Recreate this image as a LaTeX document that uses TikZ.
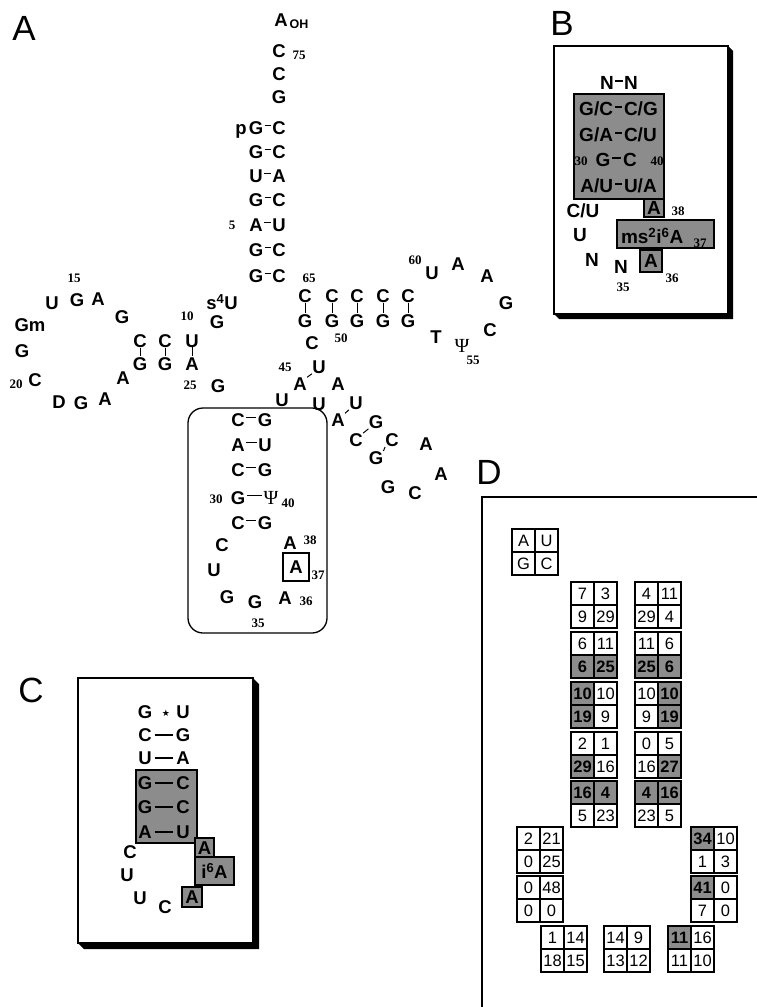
\documentclass[tikz,border=0pt]{standalone}
\usepackage{fontspec}
\newfontfamily\sansF{Liberation Sans}
\newfontfamily\serifF{Liberation Serif}
\newfontfamily\symF{DejaVu Sans}
\definecolor{shd}{gray}{0.55}

\tikzset{
  txt/.style={inner sep=0pt, outer sep=0pt},
  nt/.style={txt, font=\sansF\bfseries\fontsize{18.5}{18.5}\selectfont},
  ntb/.style={txt, font=\sansF\bfseries\fontsize{19}{19}\selectfont},
  subtxt/.style={txt, font=\sansF\bfseries\fontsize{12.5}{12.5}\selectfont},
  posnum/.style={txt, font=\serifF\bfseries\fontsize{13}{13}\selectfont},
  psi/.style={txt, font=\serifF\fontsize{20}{20}\selectfont},
  panel/.style={txt, font=\sansF\fontsize{35}{35}\selectfont},
  bond/.style={line width=1pt},
  frameline/.style={line width=1.3pt},
  tile/.style={draw, line width=1.2pt, fill=shd},
  cellbox/.style={draw, line width=1.1pt, minimum width=23pt, minimum height=23pt,
               inner sep=0pt, font=\sansF\fontsize{16.5}{16.5}\selectfont},
}

% base pair in the cloverleaf: two letters and a short raised dash
\newcommand\bpA[7]{%
  \node[nt] (#1) at (#3,#5) {#6};
  \node[nt] (#2) at (#4,#5) {#7};
  \draw[bond] ([xshift=1.5pt,yshift=2.5pt]#1.east) -- ([xshift=-1.5pt,yshift=2.5pt]#2.west);}
% base pair with a long centred dash (panel C)
\newcommand\bpC[7]{%
  \node[nt] (#1) at (#3,#5) {#6};
  \node[nt] (#2) at (#4,#5) {#7};
  \draw[line width=1.6pt] ([xshift=3pt]#1.east) -- ([xshift=-3pt]#2.west);}
% base pair of panel B: left text ends at #3, right text starts at #4
\newcommand\bpB[7]{%
  \node[ntb, anchor=east] (#1) at (#3,#5) {#6};
  \node[ntb, anchor=west] (#2) at (#4,#5) {#7};
  \draw[line width=1.2pt] ([xshift=2pt,yshift=2pt]#1.east) -- ([xshift=-2pt,yshift=2pt]#2.west);}
% vertical bond of a stacked pair
\newcommand\vbond[2]{\draw[bond] (#1.south) -- ([yshift=1.5pt]#2.north);}
% slanted bond
\newcommand\sbond[2]{\draw[bond, shorten <=0.5pt, shorten >=0.5pt] (#1.north east) -- (#2.south west);}

\begin{document}
\begin{tikzpicture}[x=1pt,y=-1pt]
\useasboundingbox (0,0) rectangle (757,1007);
\fill[white] (0,0) rectangle (757,1007);

%================ A: cloverleaf =================
\node[panel] (labA) at (24,28) {A};

% acceptor end and stem
\node[nt] (r76) at (281,20) {A};
\node[subtxt] (roh) at (299,24) {OH};
\node[nt] (r75) at (279,51) {C};
\node[posnum] (n75) at (299,55) {75};
\node[nt] (r74) at (279,74) {C};
\node[nt] (r73) at (279,97) {G};
\node[nt, anchor=base] (p1) at (241,134.5) {p};
\bpA{r1}{r72}{256}{279}{128}{G}{C}
\bpA{r2}{r71}{256}{279}{152}{G}{C}
\bpA{r3}{r70}{256}{279}{176}{U}{A}
\bpA{r4}{r69}{256}{279}{200}{G}{C}
\bpA{r5}{r68}{256}{279}{225}{A}{U}
\bpA{r6}{r67}{256}{279}{250}{G}{C}
\bpA{r7}{r66}{256}{279}{276}{G}{C}
\node[posnum] (n5) at (232,225) {5};

% D arm
\node[nt] (r8) at (222,302) {s\textsuperscript{4}U};
\node[nt] (r9) at (217,322) {G};
\node[posnum] (n10) at (187,316) {10};
\node[nt] (r10) at (192,341) {U};
\node[nt] (r11) at (165,341) {C};
\node[nt] (r12) at (140,341) {C};
\node[nt] (r25) at (192,364) {A};
\node[nt] (r24) at (165,364) {G};
\node[nt] (r23) at (140,364) {G};
\vbond{r10}{r25}
\vbond{r11}{r24}
\vbond{r12}{r23}
\node[nt] (r13) at (122,317) {G};
\node[nt] (r14) at (98,299) {A};
\node[nt] (r15) at (77,300) {G};
\node[posnum] (n15) at (74,278) {15};
\node[nt] (r16) at (52,303) {U};
\node[nt] (r17) at (30,325) {Gm};
\node[nt] (r18) at (22,351) {G};
\node[nt] (r19) at (35,380) {C};
\node[posnum] (n20) at (16,384) {20};
\node[nt] (r20) at (59,402) {D};
\node[nt] (r21) at (81,403) {G};
\node[nt] (r22) at (105,399) {A};
\node[nt] (r22b) at (123,378) {A};
\node[posnum] (n25) at (190,385) {25};
\node[nt] (r26) at (218,386) {G};

% T arm
\node[posnum] (n65) at (309,278) {65};
\node[nt] (r65) at (305,296) {C};
\node[nt] (r64) at (332,296) {C};
\node[nt] (r63) at (357,296) {C};
\node[nt] (r62) at (383,296) {C};
\node[nt] (r61) at (408,296) {C};
\node[nt] (r49) at (305,321) {G};
\node[nt] (r50) at (332,321) {G};
\node[nt] (r51) at (357,321) {G};
\node[nt] (r52) at (383,321) {G};
\node[nt] (r53) at (408,321) {G};
\vbond{r65}{r49}
\vbond{r64}{r50}
\vbond{r63}{r51}
\vbond{r62}{r52}
\vbond{r61}{r53}
\node[nt] (r48) at (312,343) {C};
\node[posnum] (n50) at (341,338) {50};
\node[posnum] (n60) at (415,260) {60};
\node[nt] (r60) at (432,273) {U};
\node[nt] (r59) at (458,264) {A};
\node[nt] (r58) at (487,276) {A};
\node[nt] (r57) at (506,303) {G};
\node[nt] (r56) at (490,330) {C};
\node[psi] (r55) at (462,346) {Ψ};
\node[posnum] (n55) at (473,360) {55};
\node[nt] (r54) at (436,337) {T};

% variable region
\node[posnum] (n45) at (285,367) {45};
\node[nt] (v1) at (319,367) {U};
\node[nt] (v2) at (300,384) {A};
\node[nt] (v3) at (338,384) {A};
\node[nt] (v4) at (282,400) {U};
\node[nt] (v5) at (319,404) {U};
\node[nt] (v6) at (356,403) {U};
\node[nt] (v7) at (338,420) {A};
\node[nt] (v8) at (376,422) {G};
\node[nt] (v9) at (356,440) {C};
\node[nt] (v10) at (392,440) {C};
\node[nt] (v11) at (376,458) {G};
\node[nt] (v12) at (426,444) {A};
\node[nt] (v13) at (441,474) {A};
\node[nt] (v14) at (388,487) {G};
\node[nt] (v15) at (415,493) {C};
\sbond{v2}{v1}
\sbond{v7}{v6}
\sbond{v9}{v8}
\sbond{v11}{v10}

% anticodon arm in its frame
\draw[frameline, rounded corners=15pt] (188,408) rectangle (327,633);
\bpA{k27}{k43}{238}{265}{420}{C}{G}
\bpA{k28}{k42}{238}{265}{445}{A}{U}
\bpA{k29}{k41}{238}{265}{470}{C}{G}
\node[nt] (k30) at (238,498) {G};
\node[psi] (k40) at (271,498) {Ψ};
\draw[bond] ([xshift=1.8pt,yshift=2.5pt]k30.east) -- ([xshift=-1.8pt,yshift=2.5pt]k40.west);
\node[posnum] (n30) at (216,499) {30};
\node[posnum] (n40) at (288,503) {40};
\bpA{k31}{k39}{238}{265}{523}{C}{G}
\node[nt] (k32) at (222,545) {C};
\node[nt] (k33) at (214,570) {U};
\node[nt] (k34) at (227,597) {G};
\node[nt] (k35) at (255,602) {G};
\node[posnum] (n35) at (258,623) {35};
\node[nt] (k36) at (285,598) {A};
\node[posnum] (n36) at (306,601) {36};
\node[nt, draw, line width=1.2pt, minimum width=26pt, minimum height=28pt] (k37) at (296,567) {A};
\node[posnum] (n37) at (318,575) {37};
\node[nt] (k38) at (290,543) {A};
\node[posnum] (n38) at (310,540) {38};

%================ B: consensus anticodon arm =================
\node[panel] (labB) at (562,23) {B};
\fill[black] (728,46) -- (733,51) -- (733,319) -- (559,319) -- (554,314) -- (728,314) -- cycle;
\draw[frameline, fill=white] (554,46) rectangle (728,314);
\node[ntb] (bn1) at (607,83) {N};
\node[ntb] (bn2) at (631,83) {N};
\draw[line width=1.2pt] ([xshift=1.5pt,yshift=2pt]bn1.east) -- ([xshift=-1.5pt,yshift=2pt]bn2.west);
\draw[tile] (574,94) rectangle (664,199);
\bpB{b1l}{b1r}{613}{624}{109}{G/C}{C/G}
\bpB{b2l}{b2r}{613}{624}{135}{G/A}{C/U}
\node[ntb] (b3l) at (603,160) {G};
\node[ntb] (b3r) at (630,160) {C};
\draw[line width=1.2pt] ([xshift=2pt,yshift=2pt]b3l.east) -- ([xshift=-2pt,yshift=2pt]b3r.west);
\node[posnum] (bn30) at (581,161) {30};
\node[posnum] (bn40) at (657,161) {40};
\bpB{b4l}{b4r}{613}{624}{186}{A/U}{U/A}
\node[ntb, tile, minimum width=20pt, minimum height=18pt] (b38) at (654,208) {A};
\node[posnum] (bl38) at (678,211) {38};
\node[ntb] (b32) at (583,211) {C/U};
\node[ntb] (b33) at (580,235) {U};
\node[tile, minimum width=97pt, minimum height=28pt, inner sep=0pt] (b37) at (665.5,234) {};
\node[ntb, anchor=west] (b37t) at (621,236) {ms\textsuperscript{2}i\textsuperscript{6}A};
\node[posnum] (bl37) at (700,243) {37};
\node[ntb, tile, minimum width=22pt, minimum height=22pt] (b36) at (651,261) {A};
\node[posnum] (bl36) at (672,278) {36};
\node[ntb] (b34) at (592,260) {N};
\node[ntb] (b35) at (621,267) {N};
\node[posnum] (bl35) at (623,287) {35};

%================ C: second anticodon arm =================
\node[panel] (labC) at (31,690) {C};
\fill[black] (253,678) -- (259,684) -- (259,949) -- (84,949) -- (78,943) -- (253,943) -- cycle;
\draw[frameline, fill=white] (78,678) rectangle (253,943);
\draw[tile] (136,770) rectangle (197,843);
\node[nt] (c1l) at (145,712) {G};
\node[nt] (c1r) at (183,712) {U};
\node[txt, font=\symF\fontsize{9}{9}\selectfont] (cstar) at (166,713) {★};
\bpC{c2l}{c2r}{145}{183}{735}{C}{G}
\bpC{c3l}{c3r}{145}{183}{758}{U}{A}
\bpC{c4l}{c4r}{145}{183}{783}{G}{C}
\bpC{c5l}{c5r}{145}{183}{807}{G}{C}
\bpC{c6l}{c6r}{145}{183}{832}{A}{U}
\node[nt] (c7) at (130,852) {C};
\node[nt] (c8) at (127,875) {U};
\node[nt] (c9) at (140,898) {U};
\node[nt] (c10) at (165,907) {C};
\node[nt, tile, minimum width=19pt, minimum height=20pt] (c11) at (204.5,848) {A};
\node[nt, tile, minimum width=39pt, minimum height=28pt] (c12) at (214.5,871) {i\textsuperscript{6}A};
\node[nt, tile, minimum width=20pt, minimum height=20pt] (c13) at (192,897) {A};

%================ D: tables of counts =================
\node[panel] (labD) at (489,472) {D};
\draw[frameline] (760,497) -- (482,497) -- (482,1010);
\foreach \gn/\gx/\gy/\va/\ka/\vb/\kb/\vc/\kc/\vd/\kd in {
  leg/512/529/A/white/U/white/G/white/C/white,
  pa/571/582/7/white/3/white/9/white/29/white,
  pb/571/632/6/white/11/white/{\bfseries 6}/shd/{\bfseries 25}/shd,
  pc/571/682/{\bfseries 10}/shd/10/white/{\bfseries 19}/shd/9/white,
  pd/571/732/2/white/1/white/{\bfseries 29}/shd/16/white,
  pe/571/781/{\bfseries 16}/shd/{\bfseries 4}/shd/5/white/23/white,
  qa/635/582/4/white/11/white/29/white/4/white,
  qb/635/632/11/white/6/white/{\bfseries 25}/shd/{\bfseries 6}/shd,
  qc/635/682/10/white/{\bfseries 10}/shd/9/white/{\bfseries 19}/shd,
  qd/635/732/0/white/5/white/16/white/{\bfseries 27}/shd,
  qe/635/781/{\bfseries 4}/shd/{\bfseries 16}/shd/23/white/5/white,
  la/517/827/2/white/21/white/0/white/25/white,
  lb/517/876/0/white/48/white/0/white/0/white,
  ra/691/827/{\bfseries 34}/shd/10/white/1/white/3/white,
  rb/691/876/{\bfseries 41}/shd/0/white/7/white/0/white,
  ba/541/926/1/white/14/white/18/white/15/white,
  bb/604/926/14/white/9/white/13/white/12/white,
  bc/668/926/{\bfseries 11}/shd/16/white/11/white/10/white}
{
  \node[cellbox, fill=\ka] (\gn-a) at (\gx+11.5,\gy+11.5) {\va};
  \node[cellbox, fill=\kb] (\gn-b) at (\gx+34.5,\gy+11.5) {\vb};
  \node[cellbox, fill=\kc] (\gn-c) at (\gx+11.5,\gy+34.5) {\vc};
  \node[cellbox, fill=\kd] (\gn-d) at (\gx+34.5,\gy+34.5) {\vd};
}
\end{tikzpicture}
\end{document}
